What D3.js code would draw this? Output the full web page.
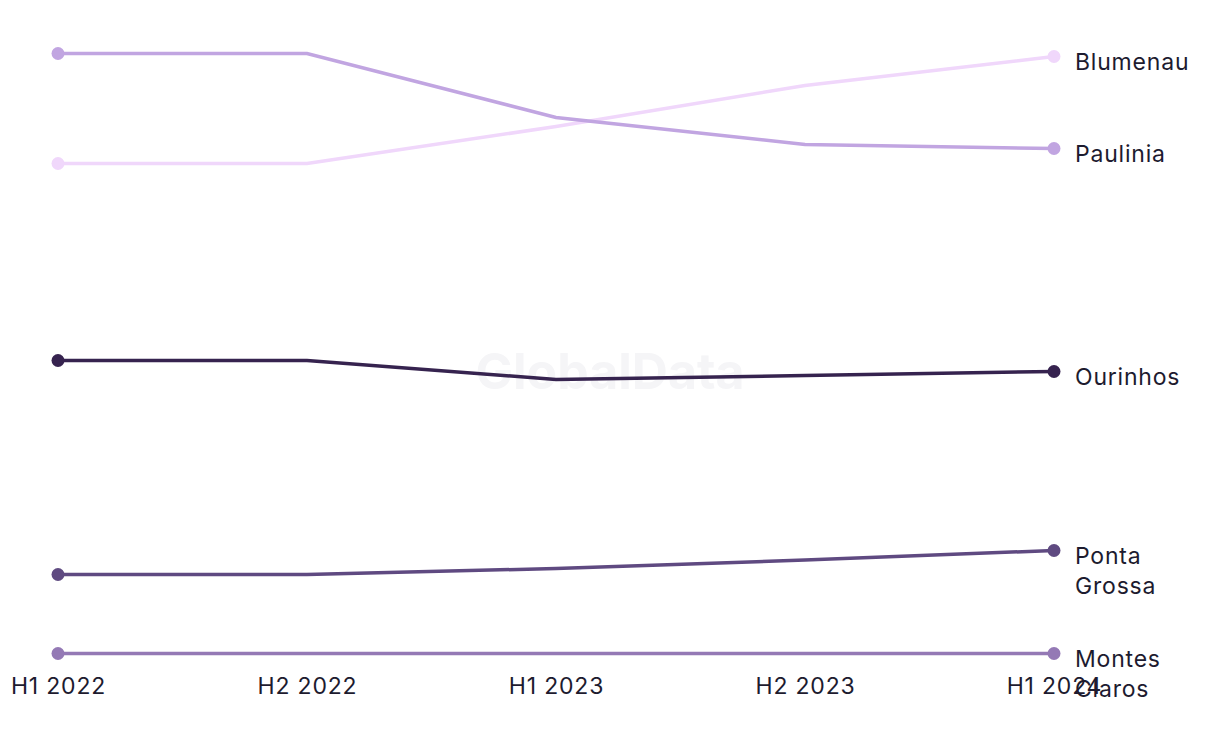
<!DOCTYPE html>
<meta charset="utf-8">

<style>
  body { margin: 0; background: #fff; }
  text { font-family: Inter, "Noto Sans", sans-serif; fill: #1d1b2f; }
  .watermark { font-weight: 700; fill: #f5f5f7; }
</style>

<body>
  <script src="https://d3js.org/d3.v7.min.js"></script>

  <script>
    var width = 1220,
        height = 744;

    var periods = ["H1 2022", "H2 2022", "H1 2023", "H2 2023", "H1 2024"];

    var cities = ["Blumenau", "Paulinia", "Ourinhos", "Ponta Grossa", "Montes Claros"];
    var blumenau = [49, 49, 52.7, 56.8, 59.7];
    var paulinia = [60, 60, 53.6, 50.9, 50.5];
    var ourinhos = [29.3, 29.3, 27.4, 27.8, 28.2];
    var pontaGrossa = [7.9, 7.9, 8.5, 9.35, 10.3];
    var montesClaros = [0, 0, 0, 0, 0];
    var colors = ["#f0d7fb", "#c1a5e1", "#36234f", "#5f4a81", "#9479b5"];

    var series = [blumenau, paulinia, ourinhos, pontaGrossa, montesClaros].map(function(v, i) {
      return { name: cities[i], values: v, color: colors[i] };
    });

    var svg = d3.select("body").append("svg")
                .attr("width", width)
                .attr("height", height);

    var x = d3.scalePoint().domain(periods).range([58, 1054]);
    var y = d3.scaleLinear().domain([0, 60]).range([653.5, 53.5]);

    // faint watermark
    svg.append("text")
       .attr("class", "watermark")
       .attr("x", 610)
       .attr("y", 389)
       .attr("text-anchor", "middle")
       .style("font-size", "50px")
       .text("GlobalData");

    var line = d3.line()
                 .x(function(d, i) { return x(periods[i]); })
                 .y(function(d) { return y(d); });

    var g = svg.selectAll(".city")
               .data(series)
               .enter().append("g")
               .attr("class", "city");

    g.append("path")
     .attr("d", function(d) { return line(d.values); })
     .attr("fill", "none")
     .attr("stroke", function(d) { return d.color; })
     .attr("stroke-width", 3.5);

    // dots at the first and last period only
    g.selectAll("circle")
     .data(function(d) {
       var n = d.values.length - 1;
       return [[0, d.values[0], d.color], [n, d.values[n], d.color]];
     })
     .enter().append("circle")
     .attr("cx", function(d) { return x(periods[d[0]]); })
     .attr("cy", function(d) { return y(d[1]); })
     .attr("r", 6.5)
     .attr("fill", function(d) { return d[2]; });

    // x axis labels
    svg.append("g")
       .attr("transform", "translate(0,694)")
       .call(d3.axisBottom(x).tickSize(0).tickPadding(0))
       .call(function(a) {
         a.select(".domain").remove();
         a.selectAll("text")
          .attr("dy", 0)
          .attr("y", 0)
          .style("font-size", "23px")
          .style("letter-spacing", "0.8px")
          .style("font-family", "Inter, 'Noto Sans', sans-serif")
          .attr("fill", "#1d1b2f");
       });

    // end labels, wrapped on spaces
    g.append("text")
     .attr("x", 1075)
     .attr("y", function(d) { return y(d.values[d.values.length - 1]) + 13.5; })
     .style("font-size", "23px")
     .style("letter-spacing", "0.8px")
     .each(function(d) {
       var words = d.name.split(" ");
       var t = d3.select(this);
       words.forEach(function(w, i) {
         t.append("tspan")
          .attr("x", 1075)
          .attr("dy", i === 0 ? 0 : 30)
          .text(w);
       });
     });
  </script>
</body>
